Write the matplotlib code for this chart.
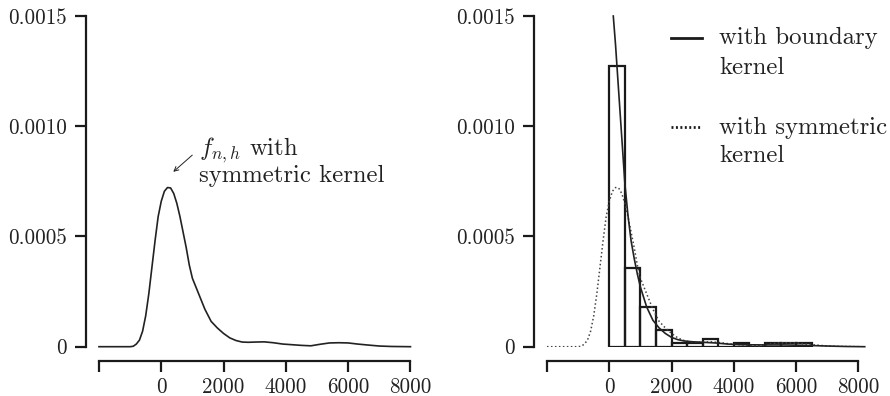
import matplotlib

matplotlib.use("Agg")
import matplotlib.pyplot as plt
from matplotlib.lines import Line2D

plt.rcParams["font.family"] = ["cmr10", "DejaVu Serif"]
plt.rcParams["mathtext.fontset"] = "cm"
plt.rcParams["axes.formatter.use_mathtext"] = True

# symmetric kernel estimate
sym_x = [-2000, -1000, -900, -800, -700, -600, -500, -400, -300, -200, -100, 0,
         100, 200, 300, 400, 500, 600, 700, 800, 900, 1000, 1200, 1400, 1600,
         1800, 2000, 2200, 2400, 2600, 2800, 3000, 3300, 3600, 3900, 4200, 4500,
         4800, 5100, 5400, 5700, 6000, 6300, 6600, 7000, 7400, 8000]
sym_y = [0, 0, 0.000002, 0.000012, 0.00003, 0.00007, 0.00014, 0.00024, 0.00036,
         0.00048, 0.00059, 0.00066, 0.000705, 0.000722, 0.00072, 0.000695,
         0.00065, 0.00059, 0.00052, 0.00045, 0.00037, 0.00031, 0.00024, 0.00017,
         0.000115, 0.000085, 0.00006, 0.00004, 0.000028, 0.000021, 0.00002,
         0.000021, 0.000022, 0.000018, 0.000012, 0.000009, 0.000006, 0.000004,
         0.000011, 0.000017, 0.000018, 0.000017, 0.000012, 0.000008, 0.000003,
         0.000001, 0]

# boundary kernel estimate
bnd_x = [128, 200, 300, 400, 500, 600, 700, 800, 900, 1000, 1200, 1400, 1600,
         1800, 2000, 2200, 2400, 2700, 3000, 3400, 3800, 4200, 5000, 5600, 6300,
         7000, 7600, 8200]
bnd_y = [0.0015, 0.00137, 0.00116, 0.00095, 0.00074, 0.000595, 0.00048, 0.0004,
         0.00033, 0.00027, 0.00018, 0.00012, 0.000085, 0.00006, 0.000042,
         0.000032, 0.000026, 0.000022, 0.00002, 0.000017, 0.000012, 0.000009,
         0.000008, 0.000008, 0.000006, 0.000003, 0.000001, 0]

# histogram, bin width 500
bin_left = [0, 500, 1000, 1500, 2000, 2500, 3000, 3500, 4000, 4500, 5000, 5500, 6000]
bin_height = [0.001275, 0.000358, 0.000178, 0.000077, 0.000015, 0.000015,
              0.000033, 0, 0.000018, 0, 0.000018, 0.000018, 0.000018]

x_ticks = [-2000, 0, 2000, 4000, 6000, 8000]
x_labels = ["", "0", "2000", "4000", "6000", "8000"]
y_ticks = [0, 0.0005, 0.0010, 0.0015]
y_labels = ["0", "0.0005", "0.0010", "0.0015"]

TICK_FS = 15.2
TEXT_FS = 17.8
INK = "#1a1a1a"
TXT = "#222222"


def style_axis(ax):
    ax.set_xlim(-2000, 8200)
    ax.set_ylim(0, 0.0015)
    for side in ("top", "right"):
        ax.spines[side].set_visible(False)
    ax.spines["left"].set_position(("outward", 9.5))
    ax.spines["bottom"].set_position(("outward", 10.3))
    ax.spines["left"].set_bounds(0, 0.0015)
    ax.spines["bottom"].set_bounds(-2000, 8000)
    for side in ("left", "bottom"):
        ax.spines[side].set_linewidth(1.6)
        ax.spines[side].set_color(INK)
    ax.set_xticks(x_ticks)
    ax.set_xticklabels(x_labels)
    ax.set_yticks(y_ticks)
    ax.set_yticklabels(y_labels)
    ax.tick_params(axis="both", length=8, width=1.6, color=INK,
                   labelsize=TICK_FS, labelcolor=TXT)
    ax.tick_params(axis="x", pad=3.5)
    ax.tick_params(axis="y", pad=5.5)


def text_lines(ax, x, ys, lines):
    for y, line in zip(ys, lines):
        ax.text(x, y, line, fontsize=TEXT_FS, ha="left", va="baseline", color=TXT)


fig = plt.figure(figsize=(8.9, 3.96), dpi=100, facecolor="white")
ax_l = fig.add_axes([0.1112, 0.1245, 0.357, 0.8351])
ax_r = fig.add_axes([0.6146, 0.1245, 0.357, 0.8351])
for ax in (ax_l, ax_r):
    ax.patch.set_alpha(0)
    style_axis(ax)

# left panel
ax_l.plot(sym_x, sym_y, color="#222222", lw=1.2, clip_on=False)
ax_l.annotate(
    "", xy=(385, 0.000793), xytext=(995, 0.000869),
    arrowprops=dict(arrowstyle="->", lw=0.7, color=TXT,
                    shrinkA=0, shrinkB=0, mutation_scale=8),
)
text_lines(ax_l, 1219, [0.000867, 0.000745], ["$f_{n,h}$ with", "symmetric kernel"])

# right panel
ax_r.bar(bin_left, bin_height, width=500, align="edge", fill=False,
         edgecolor=INK, linewidth=1.6)
ax_r.plot(sym_x, sym_y, color="#444444", lw=1.1, ls=(0, (1, 1.6)))
ax_r.plot(bnd_x, bnd_y, color="#222222", lw=1.2, clip_on=False)

ax_r.add_line(Line2D([1989, 2984], [0.001399, 0.001399], color=INK, lw=2.0))
ax_r.add_line(Line2D([1989, 2984], [0.000997, 0.000997], color=INK, lw=2.0,
                     ls=(0, (0.7, 0.9))))
text_lines(ax_r, 3529, [0.001373, 0.001237], ["with boundary", "kernel"])
text_lines(ax_r, 3529, [0.000965, 0.000838], ["with symmetric", "kernel"])

fig.savefig("out.png", dpi=100, facecolor="white")
